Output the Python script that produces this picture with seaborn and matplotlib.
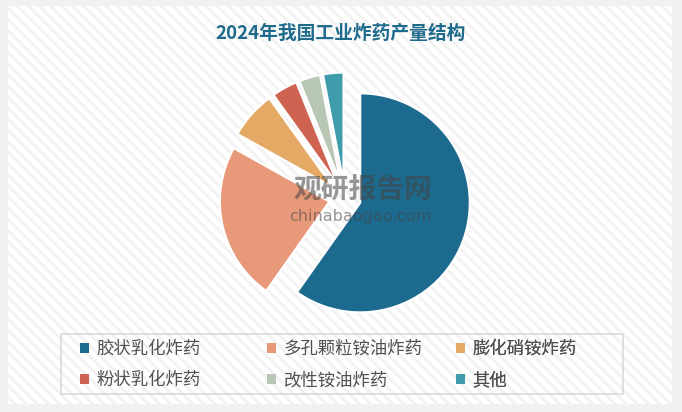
import matplotlib
matplotlib.use("Agg")
import matplotlib.pyplot as plt
from matplotlib.patches import Rectangle, Patch
import seaborn as sns

categories = ["胶状乳化炸药", "多孔颗粒铵油炸药", "膨化硝铵炸药", "粉状乳化炸药", "改性铵油炸药", "其他"]
values = [59.8, 23.3, 7.0, 3.8, 3.1, 3.0]
colors = ["#1c6a8e", "#e8997a", "#e3a965", "#cf6352", "#b8c7b3", "#3f9dab"]
title = "2024年我国工业炸药产量结构"

sns.set_theme(style="white")
plt.rcParams["font.family"] = ["Noto Sans CJK SC", "DejaVu Sans"]
palette = sns.color_palette(colors)

W, H = 682, 412
fig = plt.figure(figsize=(W / 100, H / 100), dpi=100, facecolor="#f1f1f1")
ax = fig.add_axes([0, 0, 1, 1])
ax.set_axis_off()

# panel with diagonal stripes
plt.rcParams["hatch.linewidth"] = 2.0
panel = Rectangle((8, H - 404), 664, 398, facecolor="white", edgecolor="#f2f2f2",
                  hatch="\\\\\\", linewidth=0, zorder=0)
ax.add_patch(panel)

# pie
cx, cy, r = 345, H - 198, 109.5
wedges, _ = ax.pie(values, colors=palette, startangle=90, counterclock=False,
                   center=(cx, cy), radius=r, explode=[16] * len(values),
                   wedgeprops=dict(edgecolor="white", linewidth=1.5), frame=True)
for w in wedges:
    w.set_zorder(2)
ax.set_xlim(0, W)
ax.set_ylim(0, H)
ax.set_aspect("equal")
ax.set_axis_off()

# watermark
ax.text(363, H - 190, "观研报告网", fontsize=20, fontweight="bold", color="#444444",
        alpha=0.55, ha="center", va="center", zorder=3)
ax.text(360, H - 216, "chinabaogao.com", fontsize=11.5, color="#444444", alpha=0.55,
        ha="center", va="center", family="DejaVu Sans", zorder=3)

# title
ax.text(341, H - 33, title, fontsize=13.5, fontweight="bold", color="#1f6b8c",
        ha="center", va="center", zorder=3)

# legend frame
ax.add_patch(Rectangle((61, H - 394), 562, 60, facecolor="none", edgecolor="#d9d9d9",
                       linewidth=1.2, zorder=3))

cols = [[0, 3], [1, 4], [2, 5]]
xs = [80, 267, 456]
for xpos, idx in zip(xs, cols):
    handles = [Patch(facecolor=palette[i], edgecolor="none") for i in idx]
    labels = [categories[i] for i in idx]
    leg = ax.legend(handles, labels, loc="upper left",
                    bbox_to_anchor=(xpos / W, (H - 340) / H), bbox_transform=fig.transFigure,
                    frameon=False, fontsize=12.5, labelcolor="#505050",
                    handlelength=0.5, handleheight=0.5, handletextpad=0.45,
                    labelspacing=0.75, borderpad=0.0, borderaxespad=0.0)
    ax.add_artist(leg)

fig.savefig("out.png", dpi=100, facecolor=fig.get_facecolor())
